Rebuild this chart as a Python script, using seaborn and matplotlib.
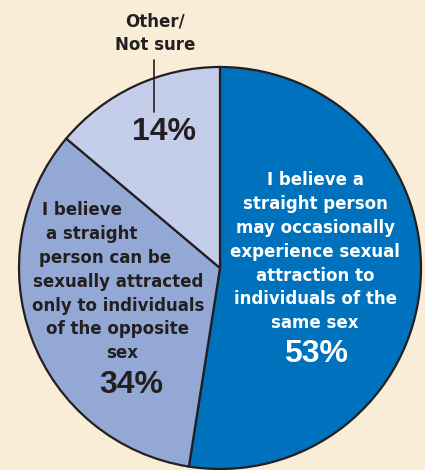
import numpy as np
import matplotlib
matplotlib.use("Agg")
import matplotlib.pyplot as plt
import seaborn as sns

# survey answers, clockwise from 12 o'clock
answers = ["may occasionally", "only opposite sex", "Other/Not sure"]
shares = [53, 34, 14]
pct_labels = ["53%", "34%", "14%"]
colors = ["#0071BC", "#93A8D5", "#C4CEEA"]

text_53 = ["I believe a", "straight person", "may occasionally", "experience sexual",
           "attraction to", "individuals of the", "same sex"]
text_34 = ["I believe", "a straight", "person can be", "sexually attracted",
           "only to individuals", "of the opposite", "sex"]
text_14 = ["Other/", "Not sure"]

sns.set_style("white")
plt.rcParams['font.family'] = ['DejaVu Sans']

bg = "#FAEDD7"
ink = "#231F20"

fig = plt.figure(figsize=(4.25, 4.7), dpi=100)
fig.patch.set_facecolor(bg)
ax = fig.add_axes([0, 0, 1, 1])
ax.set_facecolor(bg)

# pie centre at (220, 268) px, radius 201 px
R = 201.0
cx, cy = 220.0, 268.0


def px(x, y):
    return (x - cx) / R, (cy - y) / R


ax.pie(shares, colors=colors, startangle=90, counterclock=False, radius=1,
       wedgeprops=dict(edgecolor=ink, linewidth=1.6))
ax.set_xlim(-cx / R, (425 - cx) / R)
ax.set_ylim(-(470 - cy) / R, cy / R)
ax.set_aspect('equal')
ax.axis('off')

lh = 23.9
fs = 12.0
pfs = 23
pfont = 'Liberation Sans'
# 53% slice
for i, line in enumerate(text_53):
    ax.text(*px(315, 185 + i * lh), line, color="white", fontsize=fs,
            fontweight='bold', ha='center', va='baseline')
ax.text(*px(316, 362), pct_labels[0], color="white", fontsize=pfs, family=pfont,
        fontweight='bold', ha='center', va='baseline')

# 34% slice
xs_34 = [82, 92, 105, 118, 118, 118, 122]
for i, line in enumerate(text_34):
    ax.text(*px(xs_34[i], 215 + i * lh), line, color=ink, fontsize=fs,
            fontweight='bold', ha='center', va='baseline')
ax.text(*px(131, 393), pct_labels[1], color=ink, fontsize=pfs, family=pfont,
        fontweight='bold', ha='center', va='baseline')

# 14% slice, label outside with leader line
for i, line in enumerate(text_14):
    ax.text(*px(155, 27 + i * 23), line, color=ink, fontsize=fs,
            fontweight='bold', ha='center', va='baseline')
x0, y0 = px(154, 60)
x1, y1 = px(154, 112)
ax.plot([x0, x1], [y0, y1], color=ink, linewidth=1.2)
ax.text(*px(164, 140), pct_labels[2], color=ink, fontsize=pfs, family=pfont,
        fontweight='bold', ha='center', va='baseline')

plt.savefig("out.png", dpi=100, facecolor=bg)
